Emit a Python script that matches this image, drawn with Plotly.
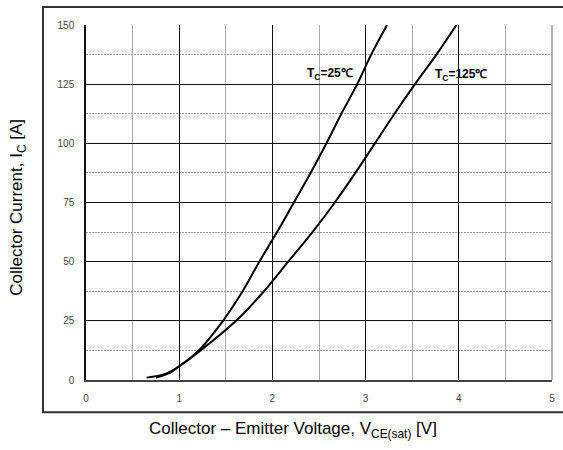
import plotly.graph_objects as go

# Tc = 25 °C curve (V_CE(sat) [V], I_C [A])
v_25 = [0.65, 0.85, 1.0, 1.21, 1.47, 1.68, 1.86, 2.05, 2.23, 2.41, 2.58, 2.74, 2.91, 3.06, 3.23]
i_25 = [1.0, 2.6, 5.8, 12.5, 25.0, 37.5, 50.0, 62.5, 75.0, 87.5, 100.0, 112.5, 125.0, 137.5, 150.0]

# Tc = 125 °C curve
v_125 = [0.75, 0.90, 1.0, 1.23, 1.61, 1.91, 2.17, 2.43, 2.67, 2.89, 3.10, 3.31, 3.53, 3.76, 3.975]
i_125 = [1.0, 3.0, 5.8, 12.5, 25.0, 37.5, 50.0, 62.5, 75.0, 87.5, 100.0, 112.5, 125.0, 137.5, 150.0]

x_ticks = [0, 1, 2, 3, 4, 5]
y_ticks = [0, 25, 50, 75, 100, 125, 150]

labels = [
    dict(text="<b>T<sub>C</sub>=25℃</b>", x=2.62, y=129.5),
    dict(text="<b>T<sub>C</sub>=125℃</b>", x=4.02, y=129.0),
]

FONT = "Arial, Liberation Sans, sans-serif"

fig = go.Figure()
for vx, iy in [(v_25, i_25), (v_125, i_125)]:
    fig.add_trace(go.Scatter(x=vx, y=iy, mode="lines",
                             line=dict(color="black", width=2, shape="spline", smoothing=1.0),
                             showlegend=False, hoverinfo="skip"))

for lb in labels:
    fig.add_annotation(x=lb["x"], y=lb["y"], text=lb["text"], showarrow=False,
                       font=dict(family=FONT, size=12, color="black"))

font_tick = dict(family=FONT, size=10, color="#444")

fig.update_xaxes(range=[0, 5], tickvals=x_ticks, ticktext=[str(t) for t in x_ticks],
                 showgrid=True, gridcolor="#111", gridwidth=1,
                 minor=dict(dtick=0.5, showgrid=True, gridcolor="#aaa", gridwidth=1),
                 showline=True, linecolor="#444", linewidth=2, mirror=False,
                 zeroline=False, ticks="", tickfont=font_tick, ticklabelstandoff=8,
                 automargin=False)
fig.update_yaxes(range=[0, 150], tickvals=y_ticks, ticktext=[str(t) for t in y_ticks],
                 showgrid=True, gridcolor="#111", gridwidth=1,
                 minor=dict(dtick=12.5, showgrid=True, gridcolor="#999", gridwidth=1,
                            griddash="2px,1px"),
                 showline=True, linecolor="#111", linewidth=1.5,
                 zeroline=False, ticks="", tickfont=font_tick, ticklabelstandoff=8,
                 automargin=False)

# right border of plot area (gray)
fig.add_shape(type="line", xref="paper", yref="paper", x0=1, x1=1, y0=0, y1=1,
              line=dict(color="#999", width=1.5))
# outer frame
fig.add_shape(type="rect", xref="paper", yref="paper",
              x0=-0.0923, x1=1.03, y0=-0.0906, y1=1.0506,
              line=dict(color="#333", width=2), layer="below")

# axis titles
fig.add_annotation(xref="paper", yref="paper", x=(293 - 86) / 466, y=(380.5 - 431) / 355.5,
                   xanchor="center", yanchor="middle",
                   text="Collector – Emitter Voltage, V<sub>CE(sat)</sub> [V]", showarrow=False,
                   font=dict(family=FONT, size=17, color="black"))
fig.add_annotation(xref="paper", yref="paper", x=(18 - 86) / 466, y=(380.5 - 208) / 355.5,
                   xanchor="center", yanchor="middle",
                   text="Collector Current, I<sub>C</sub> [A]", showarrow=False, textangle=-90,
                   font=dict(family=FONT, size=17, color="black"))

fig.update_layout(width=563, height=450,
                  margin=dict(l=86, r=11, t=25, b=70, autoexpand=False),
                  paper_bgcolor="white", plot_bgcolor="white")

fig.write_html("out.html", config={"displayModeBar": False},
               post_script="document.body.style.margin='0';document.body.style.overflow='hidden';")
